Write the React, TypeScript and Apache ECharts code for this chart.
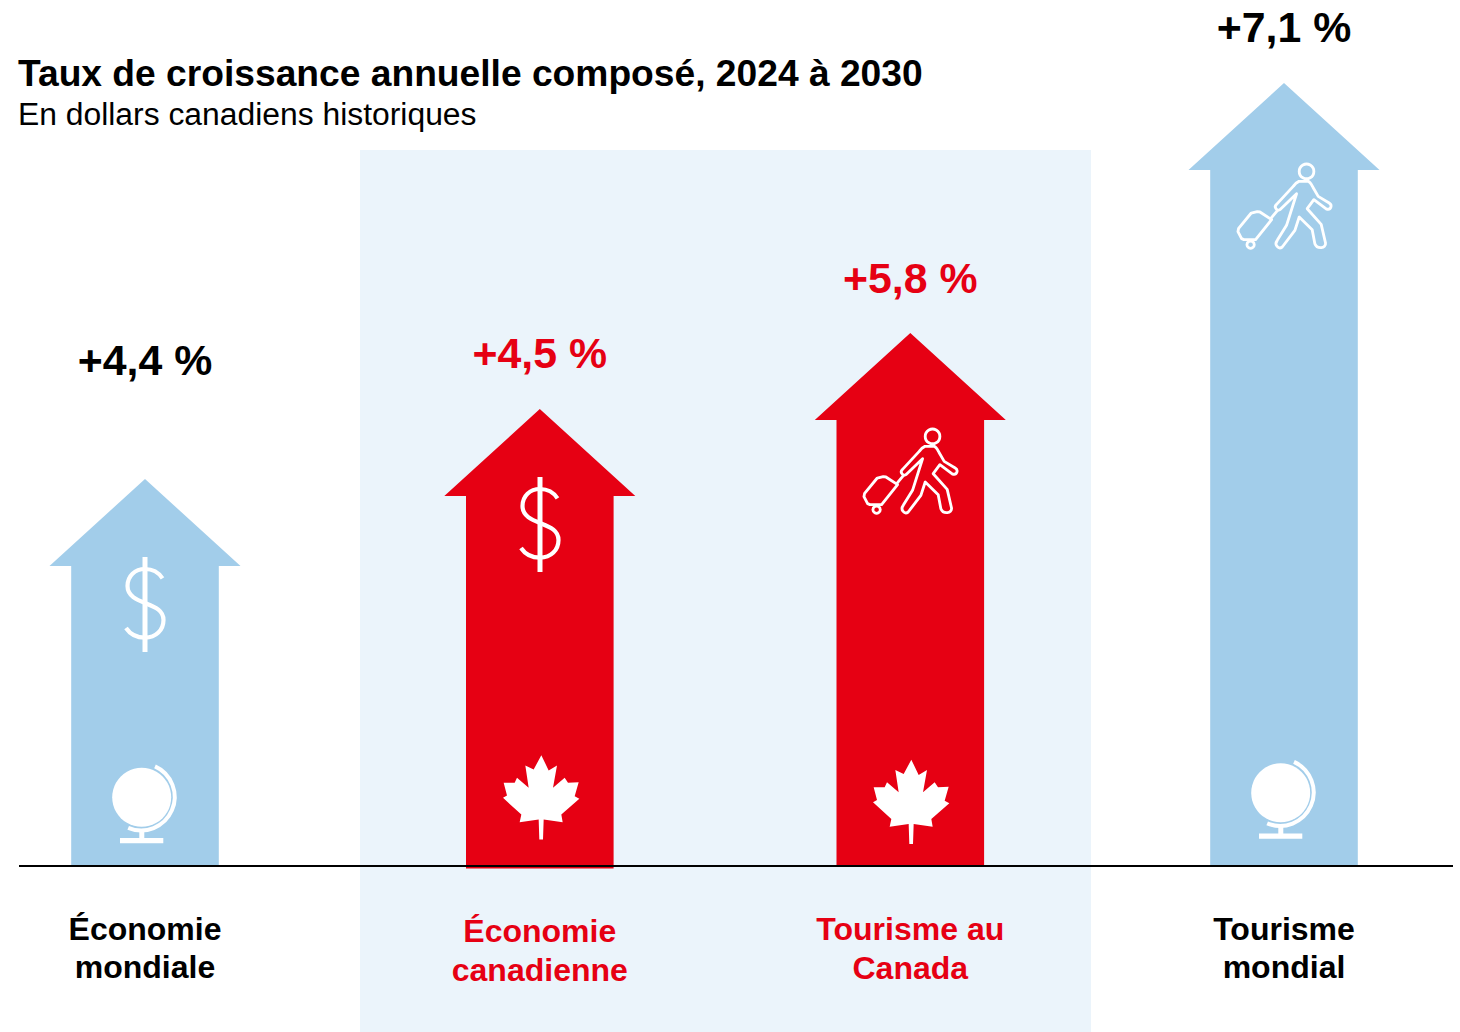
import React, { useEffect, useRef } from "react";
import * as echarts from "echarts";

const categories = ["Économie\nmondiale", "Économie\ncanadienne", "Tourisme au\nCanada", "Tourisme\nmondial"];
const rateLabels = ["+4,4 %", "+4,5 %", "+5,8 %", "+7,1 %"];
const arrowHeights = [387, 457, 533, 783];
const arrowBases = [0, -2.5, 0, 0];
const arrowCentres = [145, 539.8, 910.3, 1284];
const highlighted = [false, true, true, false];
const topIcons = ["dollar", "dollar", "walker", "walker"];
const bottomIcons = ["globe", "maple", "maple", "globe"];

const titleText = "Taux de croissance annuelle composé, 2024 à 2030";
const subtitleText = "En dollars canadiens historiques";

const BLUE = "#A2CDEA";
const RED = "#E60013";
const PANEL = "#EBF4FB";
const FONT = '"Liberation Sans", Arial, sans-serif';

// layout, in page pixels
const SHAFT = 73.8;
const HEAD = 95.5;
const HEAD_H = 87;
const rateY = [360, 353, 278, 27];
const labelY = [929, 931, 929, 929];
const labelLH = [38, 39, 39, 38];
const topIconPos = [[145, 605], [540, 525], [910, 472], [1284, 207]];
const bottomIconPos = [[145, 0], [541, -0.5], [911, 4], [1284, -4.5]];

const GLOBE_CIRCLE = { cx: -3.3, cy: 797.3, r: 29.5 };
const GLOBE_ARC = "M 10 766.4 A 33.5 33.5 0 0 1 -16.8 827.8";
const GLOBE_BASE = "M -5.7 829 L -0.7 829 L -0.7 838 L 18.3 838 L 18.3 843.3 L -25 843.3 L -25 838 L -5.7 838 Z";

const mapleZoomPts = [
  [183, 47], [205, 93], [230, 78], [218, 145], [253, 115], [263, 130], [295, 128], [283, 170], [297, 178],
  [243, 225], [247, 248], [190, 240], [188, 300], [177, 300], [175, 240], [118, 248], [123, 225], [68, 175],
  [80, 168], [70, 130], [103, 130], [110, 115], [145, 145], [135, 78], [160, 90],
];
const MAPLE =
  "M " + mapleZoomPts.map(([x, y]) => `${((x - 182) / 3).toFixed(2)} ${(740 + y / 3).toFixed(2)}`).join(" L ") + " Z";

const DOLLAR_S =
  "M 17.5 -26.7 C 14 -32 8 -36 0 -36 C -10 -36 -17.5 -29 -17.5 -19 C -17.5 -9 -8 -5 0 -2 C 10 2 18.5 5 18.5 15 C 18.5 25 11 32.7 0 32.7 C -9 32.7 -15 29 -19 23";

const WALKER_BODY =
  "M 357 333 L 385 333 C 392 335 396 345 400 352 L 415 378 L 448 398 C 458 404 454 420 440 416 L 402 388 L 382 415 L 424 462 L 437 518 C 439 534 412 538 405 520 L 397 478 L 358 440 L 345 480 L 307 530 C 296 538 282 524 292 510 L 320 465 L 350 370 L 300 418 C 292 424 280 410 290 402 L 340 348 C 344 342 350 336 357 333 Z";
const WALKER_CASE =
  "M 214 428 L 232 424 L 240 425 L 275 448 L 227 508 L 192 508 L 185 505 L 174 484 L 176 474 Z";
const WALKER_HANDLE = "M 293 420 L 273 444";

function App() {
  const ref = useRef<HTMLDivElement>(null);
  useEffect(() => {
    if (!ref.current) return;
    const chart = echarts.init(ref.current, undefined, { renderer: "svg" });

    const iconElements = (name: string, x: number, y: number) => {
      const stroke = { stroke: "#fff", fill: "none", lineCap: "round" as const, lineJoin: "round" as const };
      if (name === "dollar") {
        return {
          type: "group",
          x,
          y,
          children: [
            { type: "path", shape: { pathData: DOLLAR_S }, style: { ...stroke, lineWidth: 4.2, lineCap: "butt" } },
            { type: "rect", shape: { x: -2.5, y: -48, width: 5, height: 95 }, style: { fill: "#fff" } },
          ],
        };
      }
      if (name === "walker") {
        // The outline was traced on the crop at (1180,70), 3x; the person sits at (1284, 207)
        const sx = 1 / 3;
        return {
          type: "group",
          x: x + (1180 - 1284),
          y: y + (70 - 206.5),
          scaleX: sx,
          scaleY: sx,
          children: [
            { type: "circle", shape: { cx: 380, cy: 303, r: 22 }, style: { ...stroke, lineWidth: 8.5 } },
            { type: "path", shape: { pathData: WALKER_BODY }, style: { ...stroke, lineWidth: 8.5 } },
            { type: "path", shape: { pathData: WALKER_CASE }, style: { ...stroke, lineWidth: 8.5 } },
            { type: "path", shape: { pathData: WALKER_HANDLE }, style: { ...stroke, lineWidth: 8.5 } },
            { type: "circle", shape: { cx: 212, cy: 523, r: 11 }, style: { ...stroke, lineWidth: 8.5 } },
          ],
        };
      }
      if (name === "globe") {
        return {
          type: "group",
          x,
          y,
          children: [
            { type: "circle", shape: GLOBE_CIRCLE, style: { fill: "#fff" } },
            { type: "path", shape: { pathData: GLOBE_ARC }, style: { ...stroke, lineWidth: 4, lineCap: "butt" } },
            { type: "path", shape: { pathData: GLOBE_BASE }, style: { fill: "#fff" } },
          ],
        };
      }
      return {
        type: "group",
        x,
        y,
        children: [{ type: "path", shape: { pathData: MAPLE }, style: { fill: "#fff" } }],
      };
    };

    chart.setOption({
      animation: false,
      backgroundColor: "#fff",
      title: [
        {
          text: titleText,
          left: 18,
          top: 54,
          padding: 0,
          textStyle: { fontFamily: FONT, fontSize: 37.2, fontWeight: "bold", color: "#000" },
        },
        {
          text: subtitleText,
          left: 18,
          top: 98,
          padding: 0,
          textStyle: { fontFamily: FONT, fontSize: 31.85, fontWeight: "normal", color: "#000" },
        },
      ],
      graphic: [
        {
          type: "rect",
          z: 0,
          shape: { x: 360, y: 150, width: 731, height: 882 },
          style: { fill: PANEL },
        },
      ],
      grid: { left: 19, top: 0, width: 1434, height: 866, containLabel: false },
      xAxis: {
        type: "value",
        min: 19,
        max: 1453,
        z: 10,
        splitLine: { show: false },
        axisTick: { show: false },
        axisLabel: { show: false },
        axisLine: { show: true, onZero: false, lineStyle: { color: "#000", width: 2, cap: "butt" } },
      },
      yAxis: {
        type: "value",
        min: 0,
        max: 866,
        show: false,
        splitLine: { show: false },
      },
      series: [
        {
          type: "custom",
          coordinateSystem: "cartesian2d",
          clip: false,
          encode: { x: 0, y: 1 },
          data: arrowCentres.map((c, i) => [c, arrowHeights[i], arrowBases[i]]),
          renderItem: (params: any, api: any) => {
            const i = params.dataIndex;
            const [cx, tip] = api.coord([api.value(0), api.value(1)]);
            const [, base] = api.coord([api.value(0), api.value(2)]);
            const colour = highlighted[i] ? RED : BLUE;
            const textColour = highlighted[i] ? RED : "#000";
            const neck = tip + HEAD_H;
            return {
              type: "group",
              children: [
                {
                  type: "polygon",
                  shape: {
                    points: [
                      [cx, tip],
                      [cx + HEAD, neck],
                      [cx + SHAFT, neck],
                      [cx + SHAFT, base],
                      [cx - SHAFT, base],
                      [cx - SHAFT, neck],
                      [cx - HEAD, neck],
                    ],
                  },
                  style: { fill: colour },
                },
                iconElements(topIcons[i], topIconPos[i][0], topIconPos[i][1]),
                iconElements(bottomIcons[i], bottomIconPos[i][0], bottomIconPos[i][1]),
                {
                  type: "text",
                  style: {
                    text: rateLabels[i],
                    x: cx,
                    y: rateY[i],
                    fill: textColour,
                    fontFamily: FONT,
                    fontSize: 42.8,
                    fontWeight: "bold",
                    textAlign: "center",
                    textVerticalAlign: "middle",
                  },
                },
                ...categories[i].split("\n").map((line, k) => ({
                  type: "text",
                  style: {
                    text: line,
                    x: cx,
                    y: labelY[i] + k * labelLH[i],
                    fill: textColour,
                    fontFamily: FONT,
                    fontSize: 32,
                    fontWeight: "bold",
                    textAlign: "center",
                    textVerticalAlign: "middle",
                  },
                })),
              ],
            };
          },
        },
      ],
    });
    return () => chart.dispose();
  }, []);
  return <div ref={ref} style={{ position: "absolute", left: 0, top: 0, width: 1460, height: 1032 }} />;
}

export default App;
